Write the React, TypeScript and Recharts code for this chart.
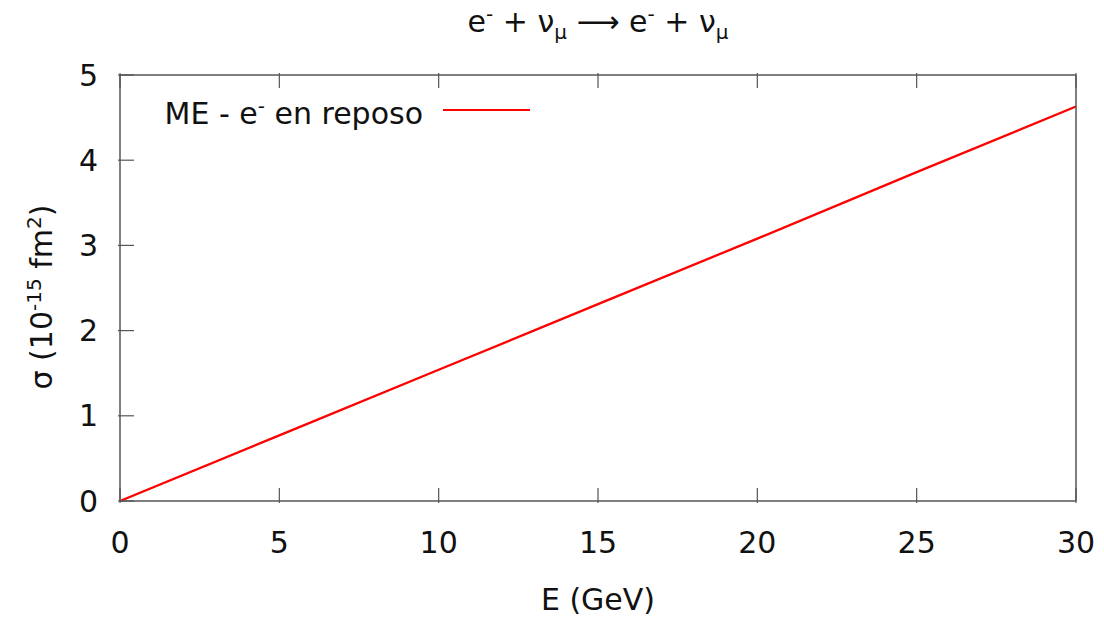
import React from "react";
import { LineChart, Line, XAxis, YAxis } from "recharts";

// energía (GeV) y sección eficaz (10^-15 fm^2)
const energy = [0, 5, 10, 15, 20, 25, 30];
const sigma = [0, 0.77, 1.54, 2.31, 3.08, 3.86, 4.63];
const xTicks = [0, 5, 10, 15, 20, 25, 30];
const yTicks = [0, 1, 2, 3, 4, 5];

const data = energy.map((e, i) => ({ e, sigma: sigma[i] }));

const FONT = "'DejaVu Sans', Verdana, sans-serif";
const AXIS = "#555";
const FS = 30;
const SUP = 20;

const BottomTick = (props: any) => {
  const { x, y, payload } = props;
  return (
    <g>
      <line x1={x} y1={y} x2={x} y2={y - 15} stroke={AXIS} strokeWidth={1.2} />
      <text x={x} y={y + 39} textAnchor="middle" dominantBaseline="central" fontSize={FS} fontFamily={FONT} fill="#111">
        {payload.value}
      </text>
    </g>
  );
};

const TopTick = (props: any) => {
  const { x, y } = props;
  return <line x1={x} y1={y} x2={x} y2={y + 15} stroke={AXIS} strokeWidth={1.2} />;
};

const LeftTick = (props: any) => {
  const { x, y, payload } = props;
  return (
    <g>
      <line x1={x} y1={y} x2={x + 16} y2={y} stroke={AXIS} strokeWidth={1.2} />
      <text x={x - 20} y={y} textAnchor="end" dominantBaseline="central" fontSize={FS} fontFamily={FONT} fill="#111">
        {payload.value}
      </text>
    </g>
  );
};

const RightTick = (props: any) => {
  const { x, y } = props;
  return <line x1={x} y1={y} x2={x - 16} y2={y} stroke={AXIS} strokeWidth={1.2} />;
};

export default function App() {
  return (
    <div style={{ position: "absolute", left: 0, top: 0, width: 1104, height: 621, background: "#fff", fontFamily: FONT }}>
      <LineChart width={1104} height={621} data={data} margin={{ top: 74, right: 27, bottom: 119, left: 119 }}>
        <XAxis
          dataKey="e"
          type="number"
          domain={[0, 30]}
          ticks={xTicks}
          xAxisId="bottom"
          height={1}
          tickSize={0}
          tickLine={false}
          tick={<BottomTick />}
          axisLine={{ stroke: AXIS, strokeWidth: 1.5 }}
        />
        <XAxis
          dataKey="e"
          type="number"
          domain={[0, 30]}
          ticks={xTicks}
          xAxisId="top"
          orientation="top"
          height={1}
          tickSize={0}
          tickLine={false}
          tick={<TopTick />}
          axisLine={{ stroke: AXIS, strokeWidth: 1.5 }}
        />
        <YAxis
          yAxisId="left"
          type="number"
          domain={[0, 5]}
          ticks={yTicks}
          width={1}
          tickSize={0}
          tickLine={false}
          tick={<LeftTick />}
          axisLine={{ stroke: AXIS, strokeWidth: 1.5 }}
        />
        <YAxis
          yAxisId="right"
          orientation="right"
          type="number"
          domain={[0, 5]}
          ticks={yTicks}
          width={1}
          tickSize={0}
          tickLine={false}
          tick={<RightTick />}
          axisLine={{ stroke: AXIS, strokeWidth: 1.5 }}
        />
        <Line
          xAxisId="bottom"
          yAxisId="left"
          type="linear"
          dataKey="sigma"
          name="ME - e- en reposo"
          stroke="#ff0000"
          strokeWidth={2.3}
          dot={false}
          isAnimationActive={false}
        />
      </LineChart>
      <div style={{ position: "absolute", left: 0, width: 1196, top: -6, textAlign: "center", fontSize: FS, color: "#111", lineHeight: "40px" }}>
        e<sup style={{ fontSize: SUP }}>-</sup> + ν<sub style={{ fontSize: SUP }}>μ</sub> ⟶ e
        <sup style={{ fontSize: SUP }}>-</sup> + ν<sub style={{ fontSize: SUP }}>μ</sub>
      </div>
      <div style={{ position: "absolute", left: 0, width: 1196, top: 580, textAlign: "center", fontSize: FS, color: "#111", lineHeight: "40px" }}>
        E (GeV)
      </div>
      <div
        style={{
          position: "absolute",
          left: 38,
          top: 297,
          transform: "translate(-50%, -50%) rotate(-90deg)",
          whiteSpace: "nowrap",
          fontSize: FS,
          color: "#111",
          lineHeight: "40px",
        }}
      >
        σ (10<sup style={{ fontSize: SUP }}>-15</sup> fm<sup style={{ fontSize: SUP }}>2</sup>)
      </div>
      <div
        style={{
          position: "absolute",
          left: 0,
          width: 530,
          top: 86,
          display: "flex",
          justifyContent: "flex-end",
          alignItems: "center",
          fontSize: FS,
          color: "#111",
          lineHeight: "40px",
        }}
      >
        <span>
          ME - e<sup style={{ fontSize: SUP }}>-</sup> en reposo
        </span>
        <span style={{ display: "inline-block", width: 87, height: 2, background: "#ff0000", marginLeft: 20 }} />
      </div>
    </div>
  );
}
